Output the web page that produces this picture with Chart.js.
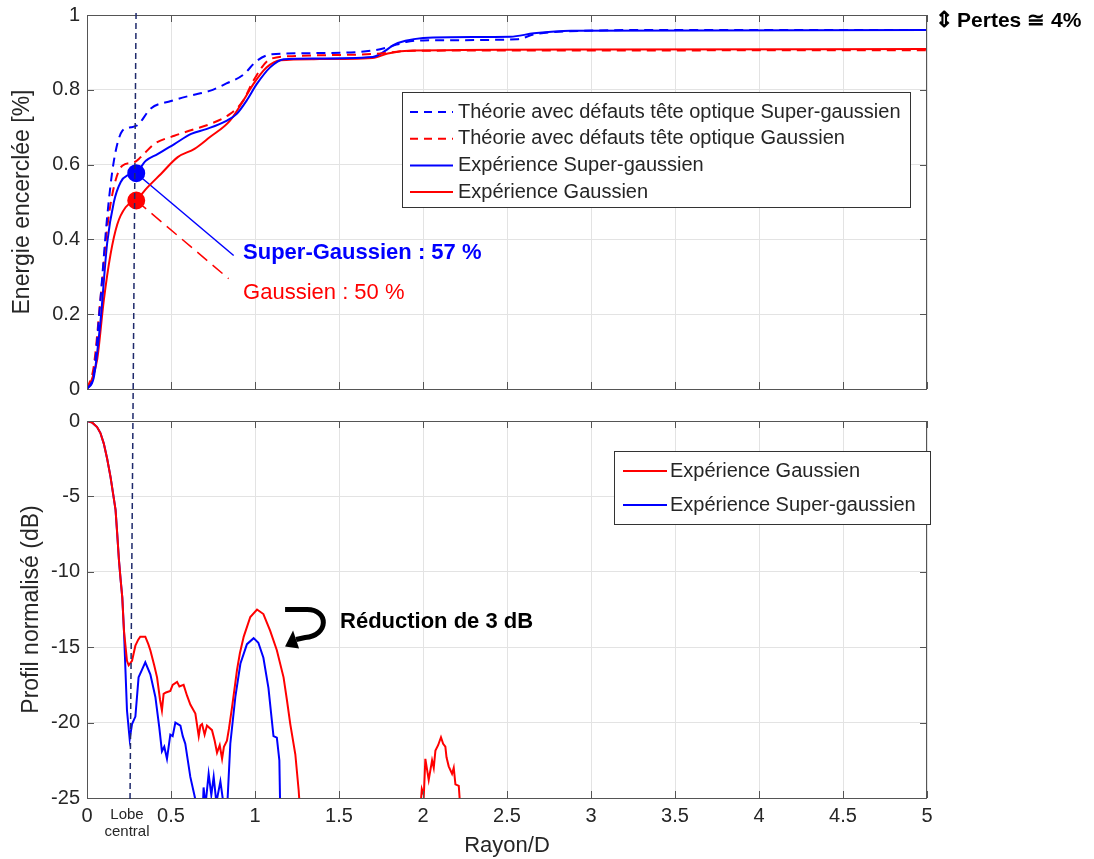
<!DOCTYPE html>
<html>
<head>
<meta charset="utf-8">
<script src="https://cdn.jsdelivr.net/npm/chart.js@4/dist/chart.umd.min.js"></script>
<style>
  html, body { margin: 0; background: #fff; }
  #wrap { position: relative; width: 1094px; height: 859px; }
  canvas { position: absolute; left: 0; }
</style>
</head>
<body>
<div id="wrap">
  <canvas id="topChart" width="1094" height="400" style="top:0"></canvas>
  <canvas id="botChart" width="1094" height="459" style="top:400px"></canvas>
  <canvas id="overlay" width="1094" height="859" style="top:0;pointer-events:none"></canvas>
</div>
<script>
// tick labels
const xTickLabels = ['0', '0.5', '1', '1.5', '2', '2.5', '3', '3.5', '4', '4.5', '5'];
const energyTickLabels = ['0', '0.2', '0.4', '0.6', '0.8', '1'];
const dbTickLabels = ['-25', '-20', '-15', '-10', '-5', '0'];

// top plot : encircled energy vs Rayon/D  ([x, y] pairs)
const theorySG = [[0,0],[0.04,0.04],[0.08,0.24],[0.12,0.46],[0.16,0.61],[0.21,0.69],[0.26,0.70],[0.3,0.705],
  [0.38,0.75],[0.5,0.77],[0.62,0.785],[0.73,0.797],[0.83,0.817],[0.93,0.84],[1.01,0.877],[1.1,0.895],
  [1.35,0.898],[1.7,0.905],[1.8,0.915],[1.9,0.928],[2.0,0.932],[2.56,0.935],[2.66,0.948],[2.85,0.956],[3.5,0.96],[5,0.96]];
const theoryG = [[0,0],[0.04,0.06],[0.08,0.24],[0.12,0.43],[0.16,0.54],[0.21,0.597],[0.28,0.606],[0.32,0.62],
  [0.4,0.655],[0.52,0.677],[0.64,0.695],[0.73,0.708],[0.85,0.735],[0.93,0.771],[0.99,0.824],[1.09,0.882],
  [1.22,0.89],[1.75,0.897],[1.9,0.904],[2.5,0.905],[5,0.906]];
const expSG = [[0,0],[0.04,0.03],[0.08,0.18],[0.12,0.39],[0.16,0.5],[0.2,0.553],[0.24,0.571],[0.29,0.577],
  [0.35,0.61],[0.42,0.628],[0.52,0.655],[0.62,0.682],[0.71,0.695],[0.83,0.717],[0.89,0.735],[0.95,0.771],
  [1.01,0.815],[1.09,0.86],[1.17,0.882],[1.35,0.884],[1.7,0.888],[1.85,0.925],[2.06,0.94],[2.52,0.942],
  [2.66,0.951],[2.88,0.958],[5,0.96]];
const expG = [[0,0],[0.02,0.016],[0.06,0.077],[0.1,0.237],[0.14,0.36],[0.18,0.44],[0.23,0.486],[0.29,0.504],
  [0.36,0.539],[0.44,0.575],[0.54,0.62],[0.64,0.642],[0.73,0.673],[0.85,0.717],[0.93,0.771],[0.99,0.815],
  [1.07,0.86],[1.15,0.879],[1.35,0.882],[1.7,0.885],[1.79,0.897],[1.94,0.905],[3,0.908],[5,0.909]];

// points marked at the central lobe edge and their callout lines
const markSG = [[0.293, 0.577]];
const markG = [[0.293, 0.504]];
const calloutSG = [[0.293, 0.577], [0.873, 0.357]];
const calloutG = [[0.293, 0.504], [0.843, 0.295]];

// bottom plot : normalised profile (dB)
const profG = [[0,0],[0.03,-0.1],[0.06,-0.4],[0.08,-0.8],[0.1,-1.5],[0.12,-2.5],[0.14,-3.7],[0.155,-4.8],
  [0.17,-5.9],[0.18,-7.5],[0.19,-9.2],[0.2,-10.5],[0.21,-11.7],[0.22,-13.9],[0.238,-15.9],[0.248,-16.2],
  [0.268,-15.9],[0.288,-14.9],[0.305,-14.5],[0.317,-14.3],[0.347,-14.3],[0.365,-14.8],[0.377,-15.2],
  [0.4,-16.2],[0.417,-17.0],[0.435,-18.5],[0.446,-19.2],[0.456,-18.1],[0.47,-18.0],[0.496,-17.9],[0.51,-17.5],
  [0.536,-17.3],[0.55,-17.6],[0.575,-17.5],[0.595,-18.2],[0.615,-18.8],[0.645,-19.4],[0.665,-20.9],
  [0.675,-20.2],[0.685,-20.1],[0.7,-20.8],[0.714,-20.2],[0.744,-20.5],[0.76,-21.2],[0.774,-22.0],
  [0.79,-21.5],[0.804,-22.4],[0.815,-21.6],[0.833,-21.2],[0.845,-20.4],[0.863,-19.0],[0.88,-17.6],
  [0.893,-16.5],[0.91,-15.4],[0.933,-14.3],[0.972,-13.0],[1.012,-12.5],[1.05,-12.8],[1.09,-13.9],
  [1.13,-15.2],[1.17,-17.0],[1.19,-18.5],[1.21,-20.1],[1.24,-22.1],[1.26,-24.5],[1.275,-27],[1.6,null],
  [1.975,-27],[1.993,-24.4],[2.005,-24.8],[2.014,-22.4],[2.034,-23.8],[2.054,-22.5],[2.064,-23.0],
  [2.074,-21.85],[2.09,-21.5],[2.107,-20.97],[2.12,-21.4],[2.133,-21.6],[2.14,-22.3],[2.153,-22.9],
  [2.173,-23.4],[2.183,-23.0],[2.193,-24.1],[2.213,-24.2],[2.23,-27]];
const profSG = [[0,0],[0.03,-0.1],[0.06,-0.4],[0.08,-0.8],[0.1,-1.5],[0.12,-2.5],[0.14,-3.7],[0.155,-4.8],
  [0.17,-5.9],[0.18,-7.5],[0.19,-9.2],[0.2,-10.5],[0.21,-11.7],[0.22,-13.9],[0.238,-19.2],[0.254,-21.1],
  [0.268,-20.1],[0.288,-19.6],[0.307,-17.0],[0.327,-16.5],[0.347,-16.0],[0.377,-16.8],[0.407,-18.3],
  [0.43,-20.3],[0.446,-21.9],[0.46,-21.6],[0.476,-22.4],[0.496,-20.8],[0.51,-20.9],[0.526,-20.0],
  [0.556,-20.2],[0.57,-20.9],[0.585,-21.4],[0.615,-23.6],[0.645,-25.1],[0.66,-27],[0.685,-27],
  [0.694,-24.3],[0.705,-25.5],[0.724,-23.4],[0.74,-24.8],[0.754,-23.6],[0.77,-25.3],[0.794,-23.9],
  [0.81,-25.2],[0.835,-25.5],[0.853,-21.4],[0.883,-18.3],[0.913,-16.1],[0.952,-14.8],[0.992,-14.4],
  [1.02,-14.7],[1.05,-15.7],[1.08,-17.7],[1.11,-20.9],[1.13,-21.0],[1.145,-22.5],[1.152,-27]];

const BLUE = '#0000ff';
const RED = '#ff0000';
const FONT = 'Arial, "Liberation Sans", sans-serif';
const INK = '#262626';

const pts = arr => arr.map(p => ({ x: p[0], y: p[1] }));

function line(label, data, color, dash, tension) {
  return {
    label, data: pts(data), borderColor: color, backgroundColor: color,
    borderWidth: 2, borderDash: dash || [], pointRadius: 0, tension: tension || 0,
    cubicInterpolationMode: tension ? 'monotone' : 'default', spanGaps: false
  };
}

// axes box with inward tick marks, like the original plots
const frame = {
  id: 'frame',
  afterDraw(chart) {
    const { ctx, chartArea: a, scales } = chart;
    ctx.save();
    ctx.strokeStyle = '#555';
    ctx.lineWidth = 1;
    ctx.strokeRect(a.left + 0.5, a.top + 0.5, a.right - a.left - 1, a.bottom - a.top);
    ctx.beginPath();
    scales.x.ticks.forEach(t => {
      const px = Math.round(scales.x.getPixelForValue(t.value)) + 0.5;
      ctx.moveTo(px, a.top); ctx.lineTo(px, a.top + 7);
      ctx.moveTo(px, a.bottom); ctx.lineTo(px, a.bottom - 7);
    });
    scales.y.ticks.forEach(t => {
      const py = Math.round(scales.y.getPixelForValue(t.value)) + 0.5;
      ctx.moveTo(a.left, py); ctx.lineTo(a.left + 7, py);
      ctx.moveTo(a.right, py); ctx.lineTo(a.right - 7, py);
    });
    ctx.stroke();
    ctx.restore();
  }
};

// legend box placed inside the plot
const boxLegend = {
  id: 'boxLegend',
  afterDraw(chart, args, o) {
    const { ctx, chartArea: a } = chart;
    const x0 = a.left + o.left, y0 = a.top + o.top;
    ctx.save();
    ctx.fillStyle = '#fff';
    ctx.fillRect(x0, y0, o.width, o.height);
    ctx.strokeStyle = '#333';
    ctx.lineWidth = 1;
    ctx.strokeRect(x0 + 0.5, y0 + 0.5, o.width, o.height);
    ctx.font = '20px ' + FONT;
    ctx.textBaseline = 'middle';
    o.items.forEach((idx, i) => {
      const ds = chart.data.datasets[idx];
      const y = y0 + o.firstRow + i * o.rowStep;
      ctx.strokeStyle = ds.borderColor;
      ctx.lineWidth = 2;
      ctx.setLineDash(ds.borderDash.length ? [8, 6] : []);
      ctx.beginPath();
      ctx.moveTo(x0 + o.sample[0], y); ctx.lineTo(x0 + o.sample[1], y);
      ctx.stroke();
      ctx.setLineDash([]);
      ctx.fillStyle = INK;
      ctx.fillText(ds.label, x0 + o.textX, y);
    });
    ctx.restore();
  }
};

// free text annotations in data coordinates
const notes = {
  id: 'notes',
  afterDraw(chart, args, o) {
    const { ctx, scales } = chart;
    ctx.save();
    o.items.forEach(n => {
      ctx.font = n.font + ' ' + FONT;
      ctx.fillStyle = n.color || '#000';
      ctx.textAlign = n.align || 'left';
      ctx.textBaseline = 'middle';
      const px = scales.x.getPixelForValue(n.x);
      const py = n.dy !== undefined ? chart.chartArea.bottom + n.dy : scales.y.getPixelForValue(n.y);
      ctx.fillText(n.text, px, py);
    });
    if (o.arrow) {
      const ax = scales.x.getPixelForValue(o.arrow[0]);
      const ay = scales.y.getPixelForValue(o.arrow[1]);
      ctx.strokeStyle = '#000';
      ctx.fillStyle = '#000';
      ctx.lineWidth = 5;
      ctx.lineCap = 'butt';
      ctx.beginPath();
      ctx.moveTo(ax, ay);
      ctx.lineTo(ax + 22, ay);
      ctx.bezierCurveTo(ax + 44, ay, ax + 44, ay + 26, ax + 20, ay + 28);
      ctx.lineTo(ax + 11, ay + 30);
      ctx.stroke();
      ctx.beginPath();
      ctx.moveTo(ax, ay + 37);
      ctx.lineTo(ax + 8, ay + 21);
      ctx.lineTo(ax + 14, ay + 39);
      ctx.closePath();
      ctx.fill();
    }
    ctx.restore();
  }
};

// no label overflow padding: the plot box is set by layout.padding alone
const noPad = s => { s.paddingTop = 0; s.paddingBottom = 0; s.paddingLeft = 0; s.paddingRight = 0; };

function axes(yMin, yMax, yStep, yLabels, yTitle, yTitlePad, showX) {
  return {
    x: {
      type: 'linear', min: 0, max: 5,
      afterFit: s => { noPad(s); s.height = showX ? 61 : 11; },
      grid: { color: '#e3e3e3', drawTicks: false },
      border: { display: false },
      ticks: {
        display: showX, stepSize: 0.5, padding: 6, color: INK, maxRotation: 0,
        font: { family: FONT, size: 20 },
        callback: v => xTickLabels[Math.round(v / 0.5)]
      },
      title: { display: showX, text: 'Rayon/D', color: INK, font: { family: FONT, size: 22 }, padding: { top: 0, bottom: 0 } }
    },
    y: {
      min: yMin, max: yMax,
      afterFit: s => { noPad(s); s.width = 87; },
      grid: { color: '#e3e3e3', drawTicks: false },
      border: { display: false },
      ticks: {
        stepSize: yStep, padding: 7, color: INK,
        font: { family: FONT, size: 20 },
        callback: v => yLabels[Math.round((v - yMin) / yStep)]
      },
      title: { display: true, text: yTitle, color: INK, font: { family: FONT, size: 23 }, padding: { top: yTitlePad, bottom: 0 } }
    }
  };
}

const topChart = new Chart(document.getElementById('topChart'), {
  type: 'line',
  data: {
    datasets: [
      line('Théorie avec défauts tête optique Super-gaussien', theorySG, BLUE, [9, 6], 0.4),
      line('Théorie avec défauts tête optique Gaussien', theoryG, RED, [9, 6], 0.4),
      line('Expérience Super-gaussien', expSG, BLUE, null, 0.4),
      line('Expérience Gaussien', expG, RED, null, 0.4),
      { ...line('', calloutSG, BLUE), borderWidth: 1.5 },
      { ...line('', calloutG, RED, [13, 7]), borderWidth: 1.5 },
      { ...line('', markSG, BLUE), showLine: false, pointRadius: 8 },
      { ...line('', markG, RED), showLine: false, pointRadius: 8 }
    ]
  },
  options: {
    responsive: false, animation: false, events: [],
    layout: { padding: { left: 0, right: 167, top: 15, bottom: 0 } },
    scales: axes(0, 1, 0.2, energyTickLabels, 'Energie encerclée [%]', 9, false),
    plugins: {
      legend: { display: false }, tooltip: { enabled: false },
      boxLegend: { left: 315, top: 77, width: 508, height: 115, firstRow: 20, rowStep: 26.7,
        sample: [8, 51], textX: 56, items: [0, 1, 2, 3] },
      notes: { items: [
        { text: 'Super-Gaussien : 57 %', x: 0.929, y: 0.363, font: 'bold 22px', color: BLUE },
        { text: 'Gaussien : 50 %', x: 0.929, y: 0.256, font: '22px', color: RED },
        { text: '⇕', x: 5.104, y: 0.984, font: 'bold 22px', color: '#000', align: 'center' },
        { text: 'Pertes ≅ 4%', x: 5.179, y: 0.984, font: 'bold 21px', color: '#000' }
      ] }
    }
  },
  plugins: [frame, boxLegend, notes]
});

const botChart = new Chart(document.getElementById('botChart'), {
  type: 'line',
  data: {
    datasets: [
      line('Expérience Gaussien', profG, RED),
      line('Expérience Super-gaussien', profSG, BLUE)
    ]
  },
  options: {
    responsive: false, animation: false, events: [],
    layout: { padding: { left: 0, right: 167, top: 21, bottom: 0 } },
    scales: axes(-25, 0, 5, dbTickLabels, 'Profil normalisé (dB)', 18, true),
    plugins: {
      legend: { display: false }, tooltip: { enabled: false },
      boxLegend: { left: 527, top: 30, width: 316, height: 73, firstRow: 20, rowStep: 34,
        sample: [9, 53], textX: 56, items: [0, 1] },
      notes: {
        items: [
          { text: 'Réduction de 3 dB', x: 1.506, y: -13.32, font: 'bold 22px', color: '#000' },
          { text: 'Lobe', x: 0.238, dy: 17, font: '15px', color: INK, align: 'center' },
          { text: 'central', x: 0.238, dy: 34, font: '15px', color: INK, align: 'center' }
        ],
        arrow: [1.179, -12.5]
      }
    }
  },
  plugins: [frame, boxLegend, notes]
});

// dashed marker of the central lobe, running through both plots
(function () {
  const ctx = document.getElementById('overlay').getContext('2d');
  const x1 = topChart.scales.x.getPixelForValue(0.292);
  const y1 = topChart.chartArea.top - 2;
  const x2 = botChart.scales.x.getPixelForValue(0.256);
  const y2 = 400 + botChart.chartArea.bottom + 4;
  ctx.strokeStyle = '#1f2a6b';
  ctx.lineWidth = 1.5;
  ctx.setLineDash([6, 4]);
  ctx.beginPath();
  ctx.moveTo(x1, y1);
  ctx.lineTo(x2, y2);
  ctx.stroke();
})();
</script>
</body>
</html>
